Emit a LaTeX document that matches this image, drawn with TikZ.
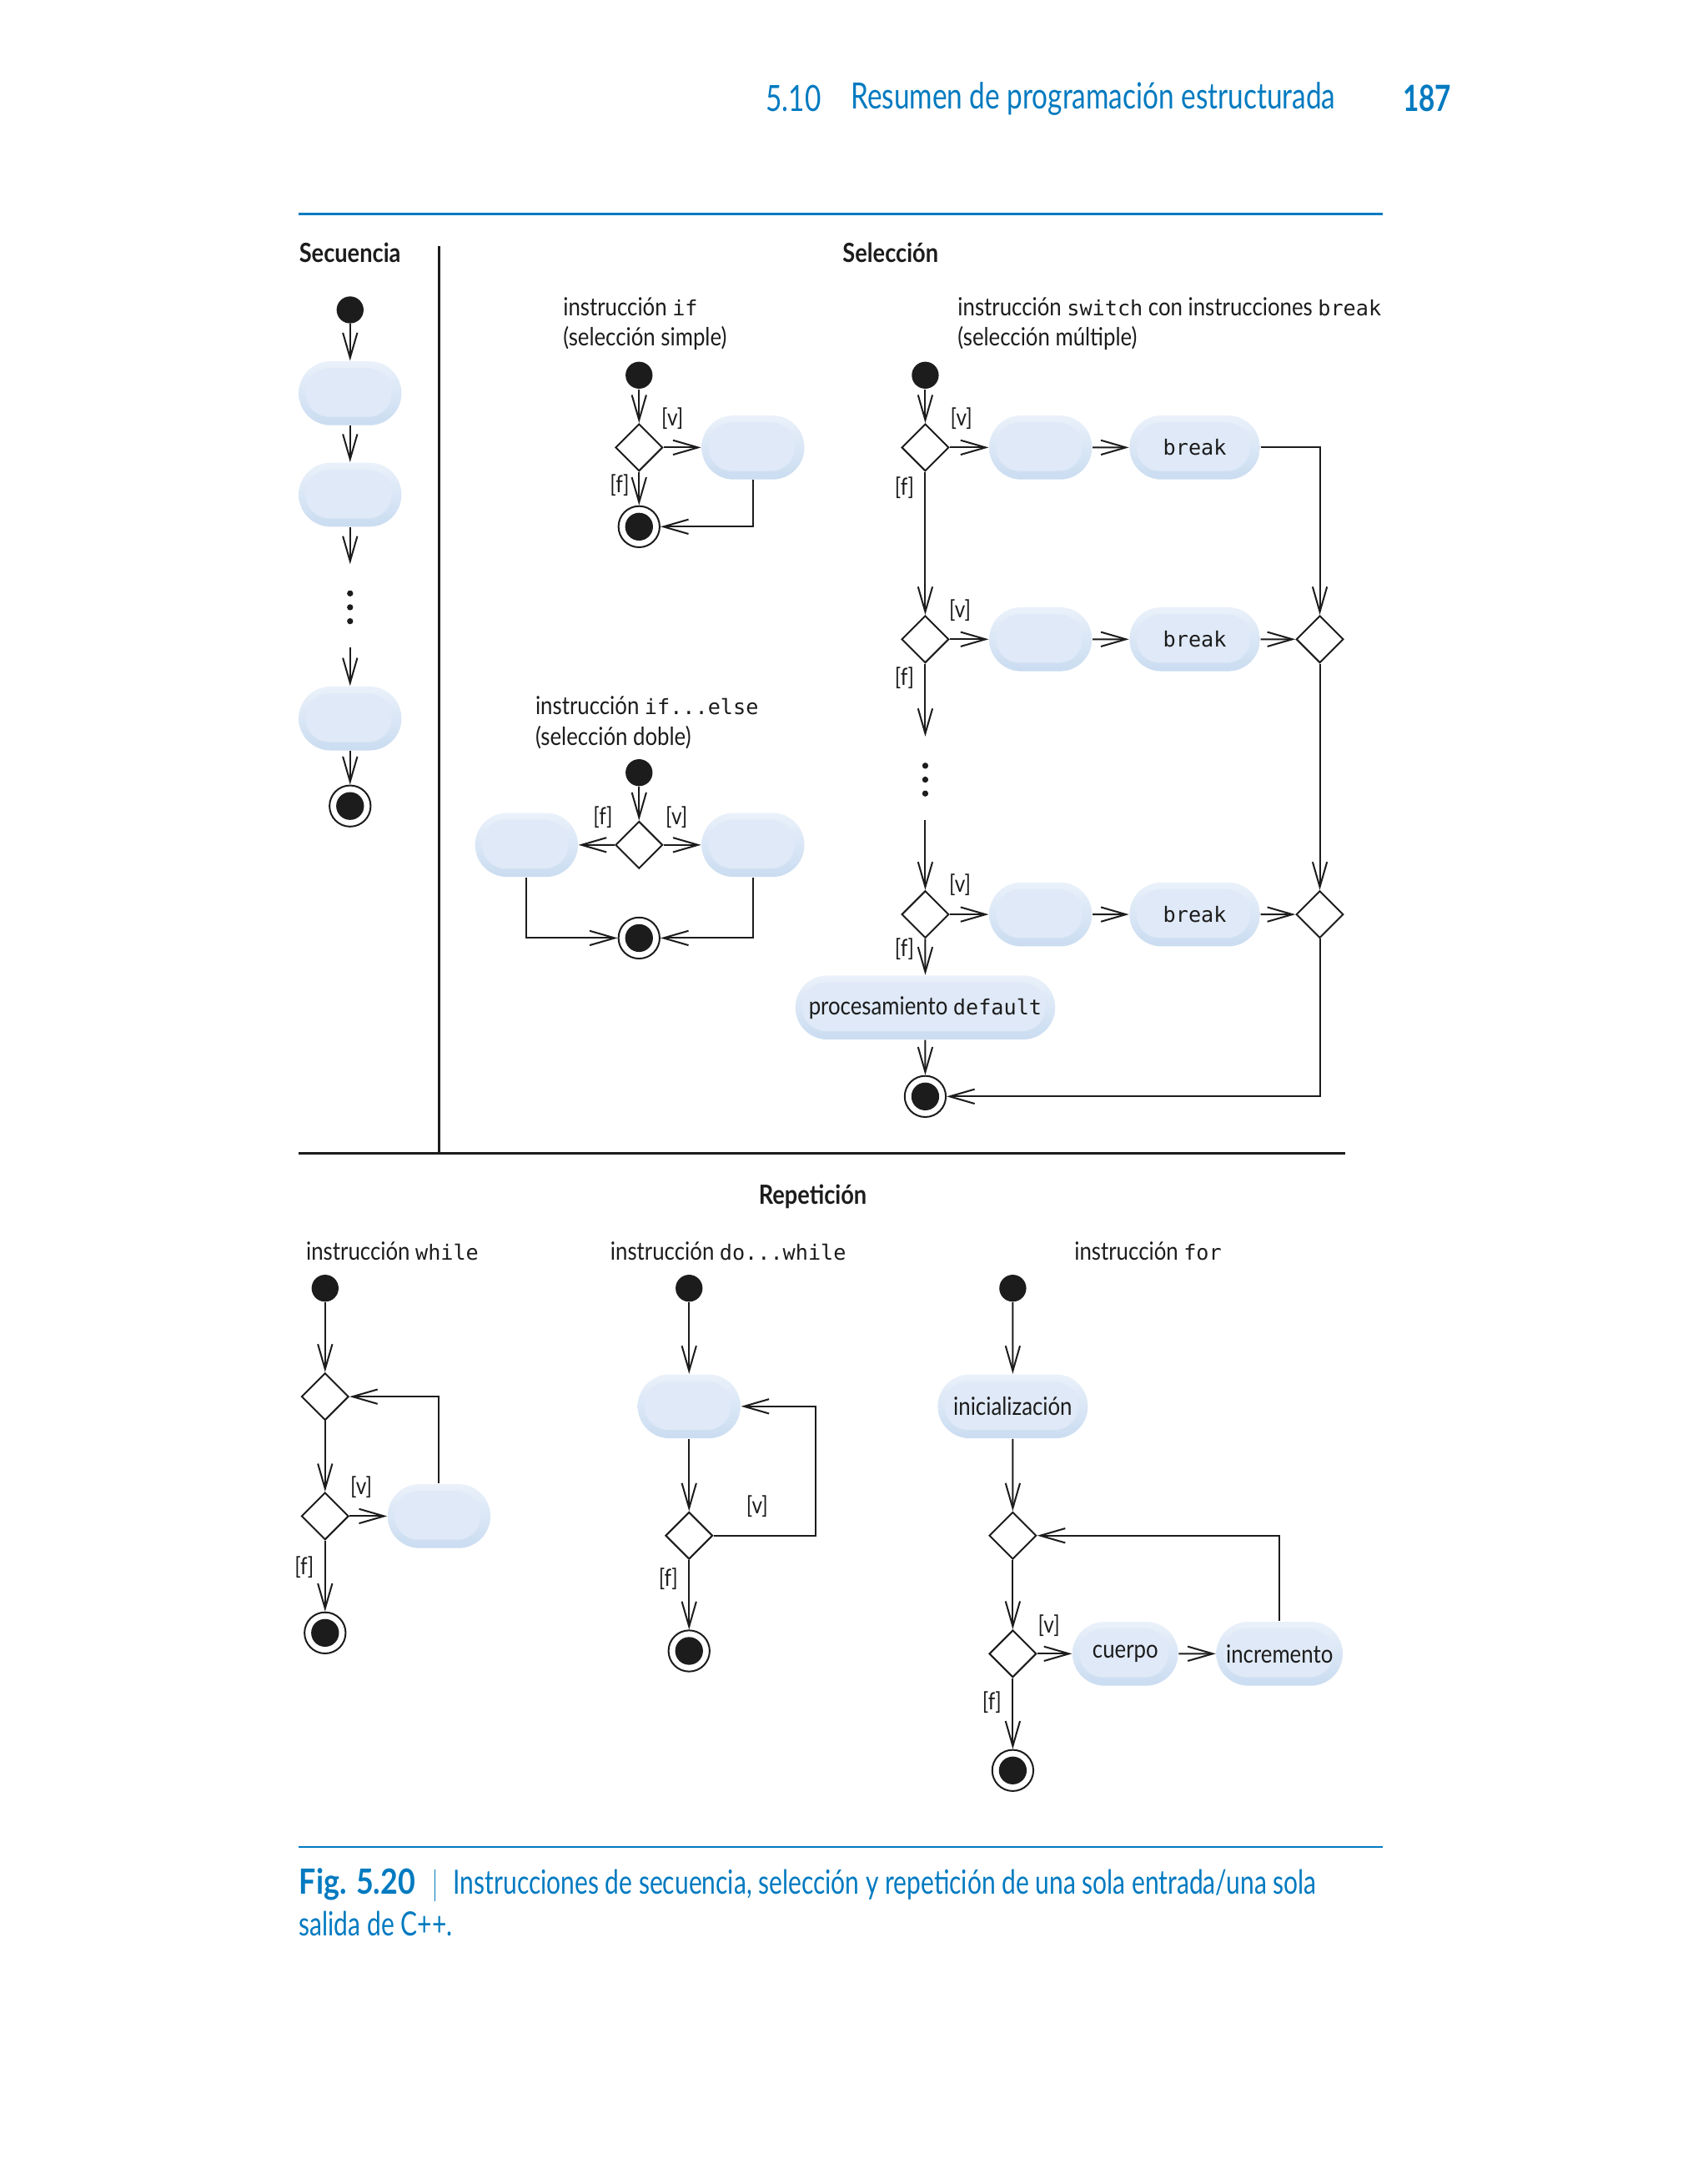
\documentclass[tikz,border=0pt]{standalone}
\usepackage{fontspec}
\setmainfont{Lato}[FakeStretch=0.86]
\setmonofont{DejaVu Sans Mono}[Scale=0.84]
\newfontfamily\headfont{Lato}[FakeStretch=0.77]
\newfontfamily\capfont{Lato}[FakeStretch=0.75]
\newfontfamily\figfont{Lato}[FakeStretch=0.86]
\usetikzlibrary{shapes.geometric,shapes.misc,arrows.meta,calc}
\definecolor{pageblue}{RGB}{0,122,192}
\definecolor{actedge}{RGB}{202,220,241}
\definecolor{acttop}{RGB}{234,241,250}
\definecolor{actin}{RGB}{223,233,247}
\definecolor{ink}{RGB}{28,28,28}
\tikzset{
  action/.style={rounded rectangle, minimum width=37pt, minimum height=23pt, inner sep=0pt,
    top color=acttop, bottom color=actedge, text=ink, font=\fontsize{9}{11}\selectfont,
    path picture={\fill[actin, rounded corners=8.5pt]
      ($(path picture bounding box.south west)+(2.5pt,3pt)$) rectangle
      ($(path picture bounding box.north east)+(-3.5pt,-2.5pt)$);}},
  startnode/.style={circle, fill=ink, minimum size=9.7pt, inner sep=0pt},
  finalnode/.style={circle, draw=ink, fill=white, line width=0.6pt, minimum size=14.8pt, inner sep=0pt,
    path picture={\fill[ink] (path picture bounding box.center) circle (5pt);}},
  decision/.style={diamond, draw=ink, fill=white, line width=0.6pt, minimum width=17pt,
    minimum height=17pt, inner sep=0pt, aspect=1},
  arr/.style={-{Straight Barb[length=9pt,width=5.2pt]}, line width=0.6pt, draw=ink},
  lbl/.style={font=\fontsize{8.5}{10}\selectfont, inner sep=0pt, text=ink},
  txt/.style={font=\fontsize{9}{11}\selectfont, inner sep=0pt, text=ink, align=left, anchor=west},
  heading/.style={font=\fontsize{9.5}{11}\selectfont\bfseries, inner sep=0pt, text=ink},
}
\begin{document}
\begin{tikzpicture}[x=0.5pt, y=-0.5pt]
\useasboundingbox[fill=white] (0,0) rectangle (1229,1568);

% page header
\node[font=\fontsize{13}{15}\selectfont\headfont, text=pageblue, inner sep=0pt, anchor=west] (hnum) at (551,71) {5.10};
\node[font=\fontsize{13}{15}\selectfont\headfont, text=pageblue, inner sep=0pt, anchor=west] (htitle) at (612,71) {Resumen de programación estructurada};
\node[font=\fontsize{13}{15}\selectfont\headfont\bfseries, text=pageblue, inner sep=0pt, anchor=east] (hpage) at (1045,71) {187};

% frame lines
\draw[pageblue, line width=0.8pt] (215,154) -- (995,154);
\draw[ink, line width=1pt] (316,177) -- (316,830);
\draw[ink, line width=1pt] (215,830) -- (968,830);
\draw[pageblue, line width=0.8pt] (215,1329) -- (995,1329);

% headings
\node[heading, anchor=west] (hsec) at (215,182) {Secuencia};
\node[heading] (hsel) at (641,182) {Selección};
\node[heading] (hrep) at (585,861) {Repetición};

% ---------- Secuencia ----------
\node[startnode] (s0) at (252,223) {};
\node[action] (s1) at (252,283) {};
\node[action] (s2) at (252,356) {};
\coordinate (s2e) at (252,406);
\coordinate (s3s) at (252,466);
\node[action] (s3) at (252,517) {};
\node[finalnode] (sF) at (252,580) {};
\draw[arr] (s0) -- (s1);
\draw[arr] (s1) -- (s2);
\draw[arr] (s2) -- (s2e);
\draw[arr] (s3s) -- (s3);
\draw[arr] (s3) -- (sF);
\foreach \yy in {427,437,447} \fill[ink] (252,\yy) circle (1.1pt);

% ---------- if ----------
\node[txt] (tif) at (405,233) {instrucción \texttt{if}\\(selección simple)};
\node[startnode] (if0) at (460,270) {};
\node[decision] (ifD) at (460,322) {};
\node[action] (ifA) at (542,322) {};
\node[finalnode] (ifF) at (460,379) {};
\draw[arr] (if0) -- (ifD);
\draw[arr] (ifD) -- (ifA);
\draw[arr] (ifD) -- (ifF);
\draw[arr] (ifA.south) |- (ifF);
\node[lbl] (ifv) at (484,301) {[v]};
\node[lbl] (iff) at (446,349) {[f]};

% ---------- if...else ----------
\node[txt] (tie) at (385,520) {instrucción \texttt{if...else}\\(selección doble)};
\node[startnode] (ie0) at (460,556) {};
\node[decision] (ieD) at (460,608) {};
\node[action] (ieL) at (379,608) {};
\node[action] (ieR) at (542,608) {};
\node[finalnode] (ieF) at (460,675) {};
\draw[arr] (ie0) -- (ieD);
\draw[arr] (ieD) -- (ieL);
\draw[arr] (ieD) -- (ieR);
\draw[arr] (ieL.south) |- (ieF);
\draw[arr] (ieR.south) |- (ieF);
\node[lbl] (ief) at (434,588) {[f]};
\node[lbl] (iev) at (487,588) {[v]};

% ---------- switch ----------
\node[txt] (tsw) at (689,233) {instrucción \texttt{switch} con instrucciones \texttt{break}\\(selección múltiple)};
\node[startnode] (sw0) at (666,270) {};
\node[decision] (swD1) at (666,322) {};
\node[action] (swA1) at (749,322) {};
\node[action, minimum width=47pt] (swB1) at (860,322) {\texttt{break}};
\node[decision] (swD2) at (666,460) {};
\node[action] (swA2) at (749,460) {};
\node[action, minimum width=47pt] (swB2) at (860,460) {\texttt{break}};
\node[decision] (swM1) at (950,460) {};
\coordinate (swgap1) at (666,530);
\coordinate (swgap2) at (666,590);
\node[decision] (swD3) at (666,658) {};
\node[action] (swA3) at (749,658) {};
\node[action, minimum width=47pt] (swB3) at (860,658) {\texttt{break}};
\node[decision] (swM2) at (950,658) {};
\node[action, minimum width=93.5pt] (swDef) at (666,725) {procesamiento \texttt{default}};
\node[finalnode] (swF) at (666,789) {};
\draw[arr] (sw0) -- (swD1);
\draw[arr] (swD1) -- (swA1);
\draw[arr] (swA1) -- (swB1);
\draw[arr] (swB1) -| (swM1);
\draw[arr] (swD1) -- (swD2);
\draw[arr] (swD2) -- (swA2);
\draw[arr] (swA2) -- (swB2);
\draw[arr] (swB2) -- (swM1);
\draw[arr] (swD2) -- (swgap1);
\draw[arr] (swgap2) -- (swD3);
\draw[arr] (swD3) -- (swA3);
\draw[arr] (swA3) -- (swB3);
\draw[arr] (swB3) -- (swM2);
\draw[arr] (swM1) -- (swM2);
\draw[arr] (swD3) -- (swDef);
\draw[arr] (swDef) -- (swF);
\draw[arr] (swM2) |- (swF);
\foreach \yy in {551,561,571} \fill[ink] (666,\yy) circle (1.1pt);
\node[lbl] (swv1) at (692,301) {[v]};
\node[lbl] (swf1) at (651,351) {[f]};
\node[lbl] (swv2) at (691,439) {[v]};
\node[lbl] (swf2) at (651,488) {[f]};
\node[lbl] (swv3) at (691,637) {[v]};
\node[lbl] (swf3) at (651,683) {[f]};

% ---------- while ----------
\node[txt] (twh) at (220,900) {instrucción \texttt{while}};
\node[startnode] (wh0) at (234,927) {};
\node[decision] (whD1) at (234,1005) {};
\node[decision] (whD2) at (234,1091) {};
\node[action] (whA) at (316,1091) {};
\node[finalnode] (whF) at (234,1175) {};
\draw[arr] (wh0) -- (whD1);
\draw[arr] (whD1) -- (whD2);
\draw[arr] (whD2) -- (whA);
\draw[arr] (whA.north) |- (whD1);
\draw[arr] (whD2) -- (whF);
\node[lbl] (whv) at (260,1070) {[v]};
\node[lbl] (whf) at (219,1128) {[f]};

% ---------- do...while ----------
\node[txt] (tdw) at (439,900) {instrucción \texttt{do...while}};
\node[startnode] (dw0) at (496,927) {};
\node[action] (dwA) at (496,1012) {};
\node[decision] (dwD) at (496,1105) {};
\node[finalnode] (dwF) at (496,1188) {};
\draw[arr] (dw0) -- (dwA);
\draw[arr] (dwA) -- (dwD);
\draw[arr] (dwD.east) -- (587,1105) |- (dwA);
\draw[arr] (dwD) -- (dwF);
\node[lbl] (dwv) at (545,1084) {[v]};
\node[lbl] (dwf) at (481,1136) {[f]};

% ---------- for ----------
\node[txt] (tfo) at (773,900) {instrucción \texttt{for}};
\node[startnode] (fo0) at (729,927) {};
\node[action, minimum width=54pt] (foI) at (729,1012) {inicialización};
\node[decision] (foD1) at (729,1105) {};
\node[decision] (foD2) at (729,1190) {};
\node[action, minimum width=38pt] (foC) at (810,1190) {cuerpo};
\node[action, minimum width=45.5pt] (foInc) at (921,1190) {incremento};
\node[finalnode] (foF) at (729,1274) {};
\draw[arr] (fo0) -- (foI);
\draw[arr] (foI) -- (foD1);
\draw[arr] (foD1) -- (foD2);
\draw[arr] (foD2) -- (foC);
\draw[arr] (foC) -- (foInc);
\draw[arr] (foInc.north) |- (foD1);
\draw[arr] (foD2) -- (foF);
\node[lbl] (fov) at (755,1170) {[v]};
\node[lbl] (fof) at (714,1225) {[f]};

% ---------- caption ----------
\node[font=\fontsize{12.5}{15}\selectfont\figfont\bfseries, text=pageblue, inner sep=0pt, anchor=west] (capfig) at (215,1356) {Fig. 5.20};
\draw[pageblue, line width=0.5pt] (313,1345) -- (313,1368);
\node[font=\fontsize{12}{15}\selectfont\capfont, text=pageblue, inner sep=0pt, anchor=west] (cap1) at (326,1356) {Instrucciones de secuencia, selección y repetición de una sola entrada/una sola};
\node[font=\fontsize{12}{15}\selectfont\capfont, text=pageblue, inner sep=0pt, anchor=west] (cap2) at (215,1384) {salida de C++.};
\end{tikzpicture}
\end{document}
